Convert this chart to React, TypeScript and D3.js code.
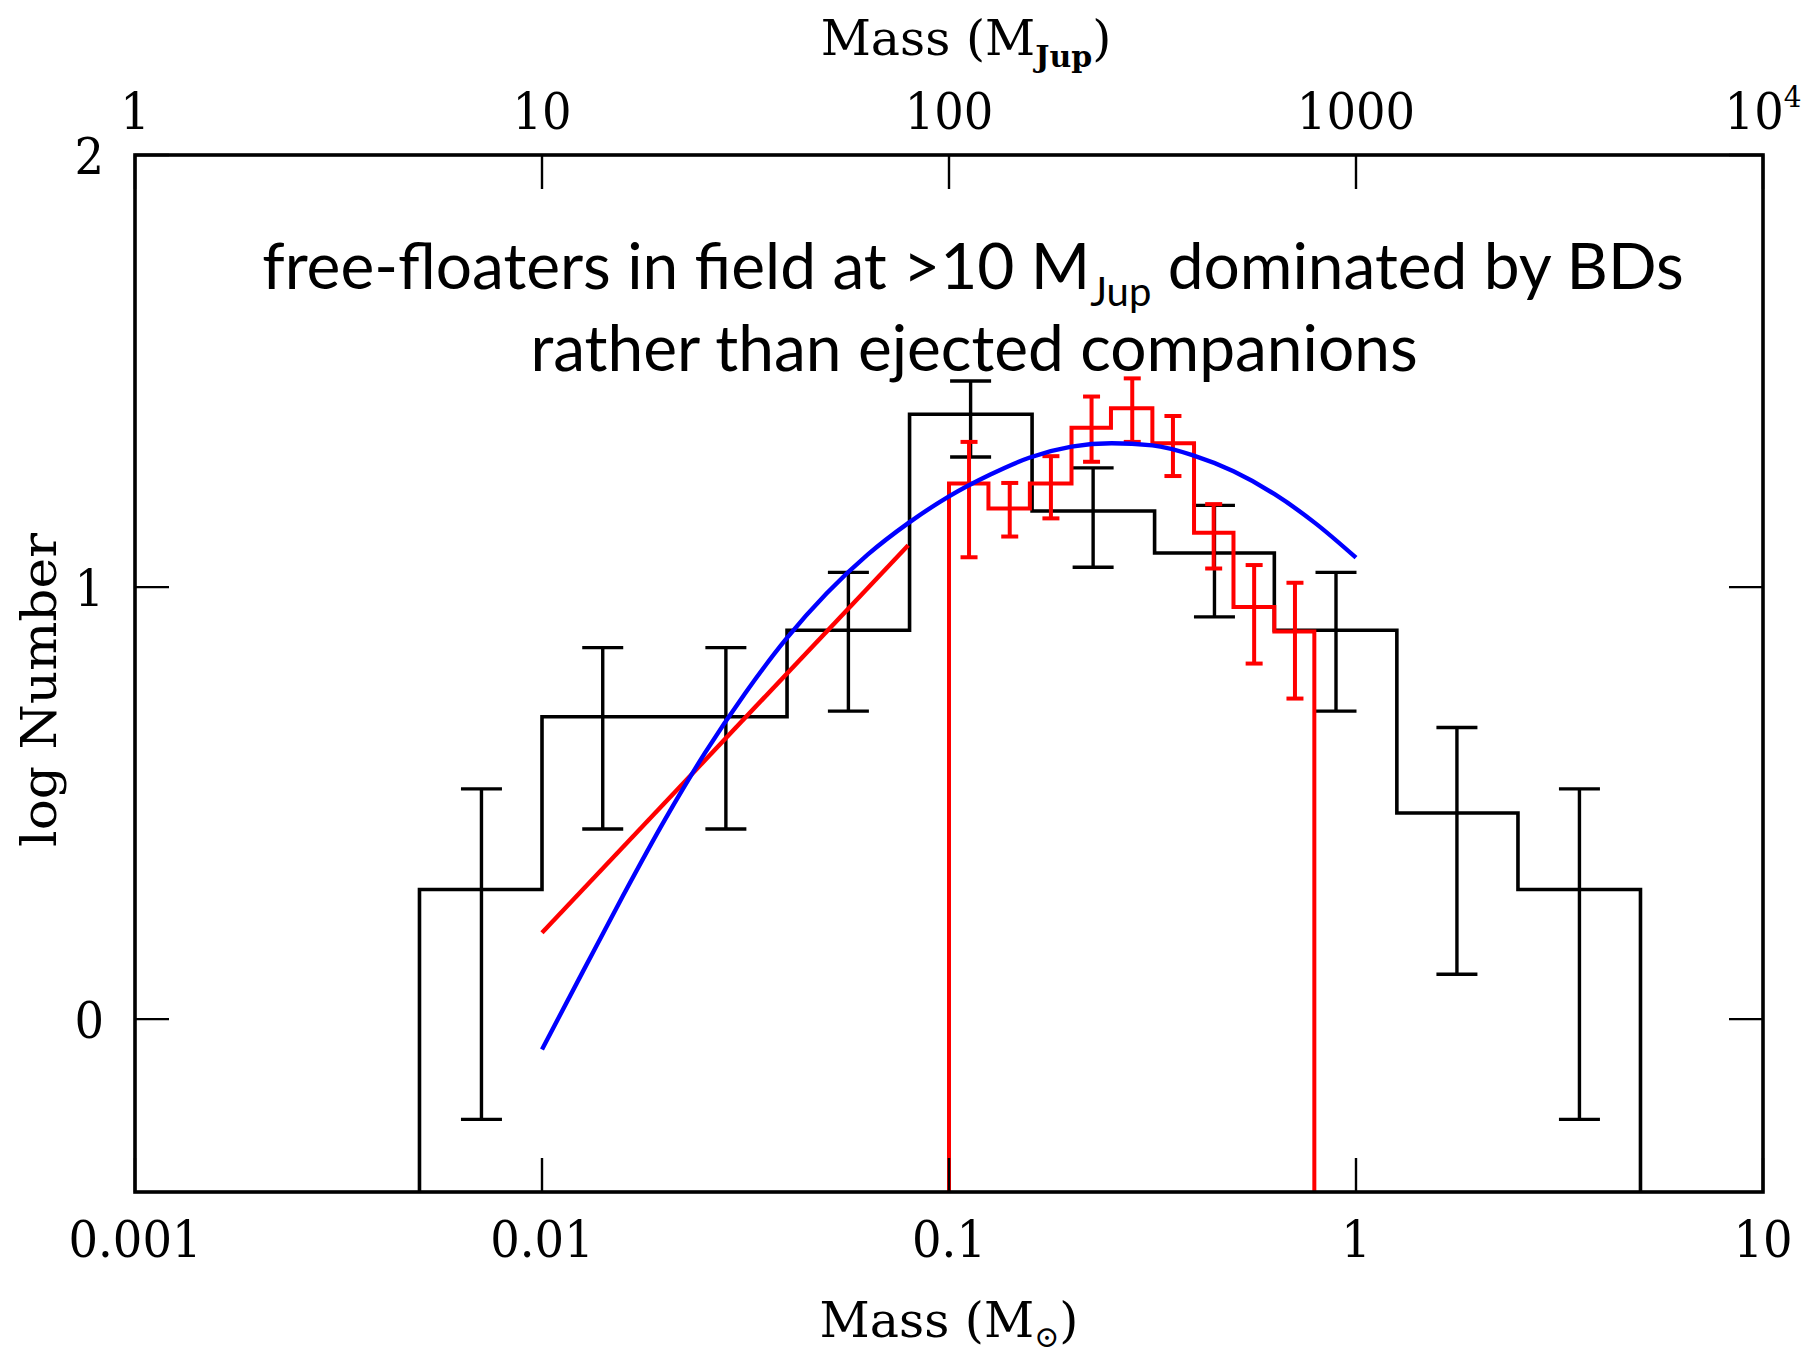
import React from "react";
import * as d3 from "d3";

// ---- data ----
// Black histogram (field sample): bin edges in solar masses, log Number per bin
const blackEdges = [0.005, 0.01, 0.02, 0.04, 0.08, 0.16, 0.32, 0.63, 1.26, 2.5, 5.0];
const blackLogN = [0.3, 0.7, 0.7, 0.9, 1.4, 1.176, 1.079, 0.9, 0.477, 0.3];
const blackCenters = [0.0071, 0.0141, 0.0283, 0.0566, 0.113, 0.226, 0.449, 0.893, 1.77, 3.54];
const blackErrHi = [0.533, 0.86, 0.86, 1.034, 1.477, 1.276, 1.189, 1.034, 0.675, 0.533];
const blackErrLo = [-0.232, 0.44, 0.44, 0.713, 1.301, 1.046, 0.931, 0.713, 0.104, -0.232];

// Red histogram
const redEdges = [0.1, 0.125, 0.158, 0.2, 0.25, 0.316, 0.4, 0.5, 0.63, 0.79];
const redLogN = [1.24, 1.182, 1.24, 1.369, 1.414, 1.333, 1.126, 0.954, 0.897];
const redCenters = [0.112, 0.141, 0.178, 0.224, 0.282, 0.355, 0.447, 0.562, 0.708];
const redErrHi = [1.336, 1.241, 1.303, 1.441, 1.483, 1.396, 1.192, 1.051, 1.01];
const redErrLo = [1.069, 1.117, 1.159, 1.29, 1.336, 1.257, 1.043, 0.823, 0.742];

// Red power-law fit line
const redFitMass = [0.01, 0.0794];
const redFitLogN = [0.2, 1.097];

// Blue log-normal fit curve
const blueMass = [0.01, 0.0126, 0.0158, 0.02, 0.0251, 0.0316, 0.0398, 0.05, 0.0631, 0.0794, 0.1,
  0.126, 0.158, 0.2, 0.251, 0.316, 0.398, 0.5, 0.631, 0.794, 1.0];
const blueLogN = [-0.07, 0.11, 0.285, 0.46, 0.615, 0.755, 0.88, 0.985, 1.075, 1.148, 1.21,
  1.26, 1.3, 1.325, 1.333, 1.328, 1.305, 1.268, 1.215, 1.148, 1.068];

// Axis ticks
const bottomTicks = [0.001, 0.01, 0.1, 1, 10];
const bottomTickLabels = ["0.001", "0.01", "0.1", "1", "10"];
const topTicks = [1, 10, 100, 1000, 10000];
const topTickLabels = ["1", "10", "100", "1000", "10"];
const yTicks = [0, 1, 2];
const yTickLabels = ["0", "1", "2"];

const W = 1812;
const H = 1353;
const L = 135, R = 1763, T = 155, B = 1192;

const x = d3.scaleLog().domain([0.001, 10]).range([L, R]);
const xTop = d3.scaleLog().domain([1, 10000]).range([L, R]);
const y = d3.scaleLinear().domain([-0.4, 2]).range([B, T]);

function stepPath(edges: number[], vals: number[]) {
  const base = y.domain()[0];
  const pts: [number, number][] = [[edges[0], base]];
  vals.forEach((v, i) => pts.push([edges[i], v]));
  pts.push([edges[edges.length - 1], vals[vals.length - 1]]);
  pts.push([edges[edges.length - 1], base]);
  return d3
    .line<[number, number]>()
    .x((d) => x(d[0]))
    .y((d) => y(d[1]))
    .curve(d3.curveStepAfter)(pts) as string;
}

function ErrBars({ cx, hi, lo, color, cap, sw }: { cx: number[]; hi: number[]; lo: number[]; color: string; cap: number; sw: number }) {
  return (
    <g stroke={color} strokeWidth={sw} fill="none">
      {cx.map((c, i) => {
        const px = x(c);
        return (
          <g key={i}>
            <line x1={px} x2={px} y1={y(hi[i])} y2={y(lo[i])} />
            <line x1={px - cap / 2} x2={px + cap / 2} y1={y(hi[i])} y2={y(hi[i])} />
            <line x1={px - cap / 2} x2={px + cap / 2} y1={y(lo[i])} y2={y(lo[i])} />
          </g>
        );
      })}
    </g>
  );
}

export default function App() {
  const serif = "'DejaVu Serif', serif";
  const tickLen = 34;
  const blueLine = d3
    .line<number>()
    .x((_, i) => x(blueMass[i]))
    .y((d) => y(d))
    .curve(d3.curveMonotoneX)(blueLogN) as string;
  const redLine = d3
    .line<number>()
    .x((_, i) => x(redFitMass[i]))
    .y((d) => y(d))(redFitLogN) as string;

  return (
    <svg width={W} height={H} style={{ position: "absolute", left: 0, top: 0, background: "#fff" }}>
      <rect x={0} y={0} width={W} height={H} fill="#fff" />

      {/* black histogram */}
      <path d={stepPath(blackEdges, blackLogN)} fill="none" stroke="#000" strokeWidth={3.6} />
      <ErrBars cx={blackCenters} hi={blackErrHi} lo={blackErrLo} color="#000" cap={41} sw={3.4} />

      {/* red histogram */}
      <path d={stepPath(redEdges, redLogN)} fill="none" stroke="#f00" strokeWidth={4} />
      <ErrBars cx={redCenters} hi={redErrHi} lo={redErrLo} color="#f00" cap={17} sw={4} />

      {/* fits */}
      <path d={redLine} fill="none" stroke="#f00" strokeWidth={4.4} />
      <path d={blueLine} fill="none" stroke="#00f" strokeWidth={4.4} />

      {/* ticks */}
      <g stroke="#000" strokeWidth={2.4}>
        {bottomTicks.map((t, i) => (
          <line key={"b" + i} x1={x(t)} x2={x(t)} y1={B} y2={B - tickLen} />
        ))}
        {topTicks.map((t, i) => (
          <line key={"t" + i} x1={xTop(t)} x2={xTop(t)} y1={T} y2={T + tickLen} />
        ))}
        {yTicks.map((t, i) => (
          <g key={"y" + i}>
            <line x1={L} x2={L + tickLen} y1={y(t)} y2={y(t)} />
            <line x1={R} x2={R - tickLen} y1={y(t)} y2={y(t)} />
          </g>
        ))}
      </g>

      {/* frame */}
      <rect x={L} y={T} width={R - L} height={B - T} fill="none" stroke="#000" strokeWidth={3.6} />

      {/* tick labels */}
      <g fontFamily={serif} fontSize={50} fill="#000">
        {bottomTicks.map((t, i) => (
          <text key={"bl" + i} transform={`translate(${x(t)},1257) scale(0.93,1)`} textAnchor="middle">
            {bottomTickLabels[i]}
          </text>
        ))}
        {topTicks.map((t, i) => (
          <text key={"tl" + i} transform={`translate(${xTop(t)},129) scale(0.93,1)`} textAnchor="middle">
            {topTickLabels[i]}
            {i === topTicks.length - 1 ? (
              <tspan fontSize={30} dy={-22}>4</tspan>
            ) : null}
          </text>
        ))}
        {yTicks.map((t, i) => (
          <text key={"yl" + i} transform={`translate(104,${y(t) + 19}) scale(0.93,1)`} textAnchor="end">
            {yTickLabels[i]}
          </text>
        ))}
      </g>

      {/* axis titles */}
      <text x={966} y={55} fontFamily={serif} fontSize={49} textAnchor="middle">
        Mass (M
        <tspan fontSize={30} fontWeight="bold" dy={12}>Jup</tspan>
        <tspan dy={-12}>)</tspan>
      </text>
      <text x={949} y={1337} fontFamily={serif} fontSize={49} textAnchor="middle">
        Mass (M
        <tspan fontSize={30} dy={10}>⊙</tspan>
        <tspan dy={-10}>)</tspan>
      </text>
      <text
        transform="translate(56,690) rotate(-90) scale(1.08,1)"
        fontFamily={serif}
        fontSize={48}
        textAnchor="middle"
      >
        log Number
      </text>

      {/* annotation */}
      <g fontFamily="Lato, 'Open Sans', sans-serif" fontSize={64} fill="#000" textAnchor="middle">
        <text x={973} y={289}>
          free-floaters in field at &gt;10 M
          <tspan fontSize={40} dy={17}>Jup</tspan>
          <tspan dy={-17}> dominated by BDs</tspan>
        </text>
        <text x={974} y={371}>rather than ejected companions</text>
      </g>
    </svg>
  );
}
